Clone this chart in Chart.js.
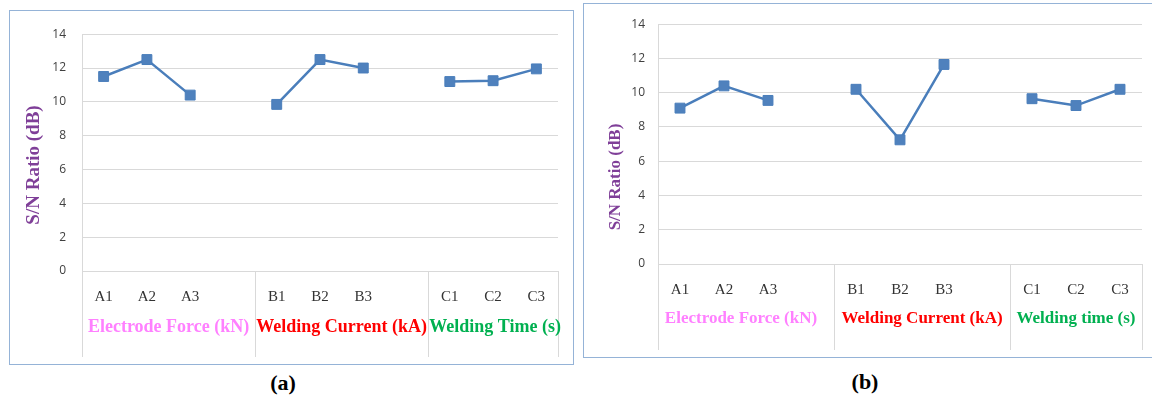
<!doctype html>
<html lang="en">
<head>
<meta charset="utf-8" />
<title>S/N Ratio main effects</title>
<script src="https://cdn.jsdelivr.net/npm/chart.js@4"></script>
<style>
  body { margin: 0; width: 1152px; height: 398px; background: #fff; position: relative; overflow: hidden; }
  .panel { position: absolute; border: 1px solid #95B3D7; box-sizing: border-box; }
  canvas { position: absolute; }
  .cap { position: absolute; font: bold 22px "Liberation Serif", serif; color: #000; transform: translate(-50%, -50%); }
</style>
</head>
<body>
<div class="panel" style="left:9px;top:10px;width:565px;height:355px;"></div>
<canvas id="chartA" width="562" height="352" style="left:10px;top:11px;"></canvas>
<div class="panel" style="left:583px;top:3px;width:600px;height:355px;"></div>
<canvas id="chartB" width="566" height="353" style="left:584px;top:4px;"></canvas>
<div class="cap" style="left:283px;top:383px;">(a)</div>
<div class="cap" style="left:865px;top:382px;">(b)</div>
<script>
// categories: three factors x three levels, with an empty slot between factor groups
const categories = ["A1", "A2", "A3", "", "B1", "B2", "B3", "", "C1", "C2", "C3"];
const yTicks = [0, 2, 4, 6, 8, 10, 12, 14];

// S/N ratio (dB)
const snRatioA = [11.5, 12.5, 10.4, null, 9.85, 12.5, 12.0, null, 11.2, 11.25, 11.95];
const snRatioB = [9.1, 10.4, 9.55, null, 10.2, 7.25, 11.65, null, 9.65, 9.25, 10.2];

const groupNamesA = ["Electrode Force (kN)", "Welding Current (kA)", "Welding Time (s)"];
const groupNamesB = ["Electrode Force (kN)", "Welding Current (kA)", "Welding time (s)"];
const groupColors = ["#FF80FF", "#FF0000", "#00B050"];
// first/last category index covered by each factor group
const groupSpans = [[0, 3], [4, 7], [8, 10]];

const axisTitle = "S/N Ratio (dB)";

// draws the grouped category band under the plot and the y-axis title
const groupAxis = {
  id: "groupAxis",
  afterDraw(chart, args, o) {
    const { ctx, chartArea } = chart;
    const x = chart.scales.x;
    const half = (x.getPixelForValue(1) - x.getPixelForValue(0)) / 2;
    ctx.save();
    ctx.strokeStyle = "#D9D9D9";
    ctx.lineWidth = 1;
    const edges = [groupSpans[0][0], ...groupSpans.map(s => s[1] + 1)];
    edges.forEach(i => {
      const px = Math.round(x.getPixelForValue(i) - half) + 0.5;
      ctx.beginPath();
      ctx.moveTo(px, chartArea.bottom);
      ctx.lineTo(px, o.sepBottom);
      ctx.stroke();
    });
    ctx.font = `bold ${o.groupSize}px "Liberation Serif", serif`;
    ctx.textAlign = "center";
    ctx.textBaseline = "middle";
    groupSpans.forEach((s, k) => {
      const l = x.getPixelForValue(s[0]) - half;
      const r = x.getPixelForValue(s[1]) + half;
      ctx.fillStyle = groupColors[k];
      ctx.fillText(o.names[k], (l + r) / 2 + (o.shift[k] || 0), o.groupY);
    });
    ctx.translate(o.titleX, o.titleY);
    ctx.rotate(-Math.PI / 2);
    ctx.fillStyle = "#7F3F98";
    ctx.font = `bold ${o.titleSize}px "Liberation Serif", serif`;
    ctx.fillText(axisTitle, 0, 0);
    ctx.restore();
  },
};

function makeChart(id, values, cfg) {
  return new Chart(document.getElementById(id), {
    type: "line",
    data: {
      labels: categories,
      datasets: [{
        data: values,
        borderColor: "#4A7EBB",
        borderWidth: 2.5,
        pointStyle: "rect",
        pointRadius: 7,
        pointBackgroundColor: "#4F81BD",
        pointBorderColor: "#4A7EBB",
        pointBorderWidth: 1,
        spanGaps: false,
        tension: 0,
      }],
    },
    options: {
      responsive: false,
      animation: false,
      devicePixelRatio: 1,
      layout: { padding: { top: 15, right: cfg.right, bottom: 0, left: 0 } },
      plugins: { legend: { display: false }, tooltip: { enabled: false }, groupAxis: cfg.group },
      scales: {
        x: {
          type: "category",
          offset: true,
          grid: { display: false, drawTicks: false },
          border: { display: false },
          ticks: { autoSkip: false, maxRotation: 0, padding: 17, color: "#333333", font: { family: "Liberation Serif", size: 15 } },
          afterFit: s => { s.height = cfg.xHeight; },
        },
        y: {
          min: 0,
          max: 14,
          afterBuildTicks: s => { s.ticks = yTicks.map(v => ({ value: v })); },
          grid: { color: "#D9D9D9", drawTicks: false },
          border: { display: true, color: "#D9D9D9" },
          ticks: { padding: cfg.tickPad, color: "#404040", font: { family: "Open Sans", size: 12 } },
          afterFit: s => { s.width = cfg.yWidth; },
        },
      },
    },
    plugins: [groupAxis],
  });
}

makeChart("chartA", snRatioA, {
  right: 14, xHeight: 92, yWidth: 72, tickPad: 16,
  group: { names: groupNamesA, groupSize: 18, groupY: 316, sepBottom: 346, titleX: 24, titleY: 154, titleSize: 19, shift: [0, 0, 2] },
});
makeChart("chartB", snRatioB, {
  right: 5, xHeight: 93, yWidth: 74, tickPad: 13,
  group: { names: groupNamesB, groupSize: 17, groupY: 315, sepBottom: 346, titleX: 32, titleY: 173, titleSize: 17, shift: [-5, 0, 0] },
});
</script>
</body>
</html>
